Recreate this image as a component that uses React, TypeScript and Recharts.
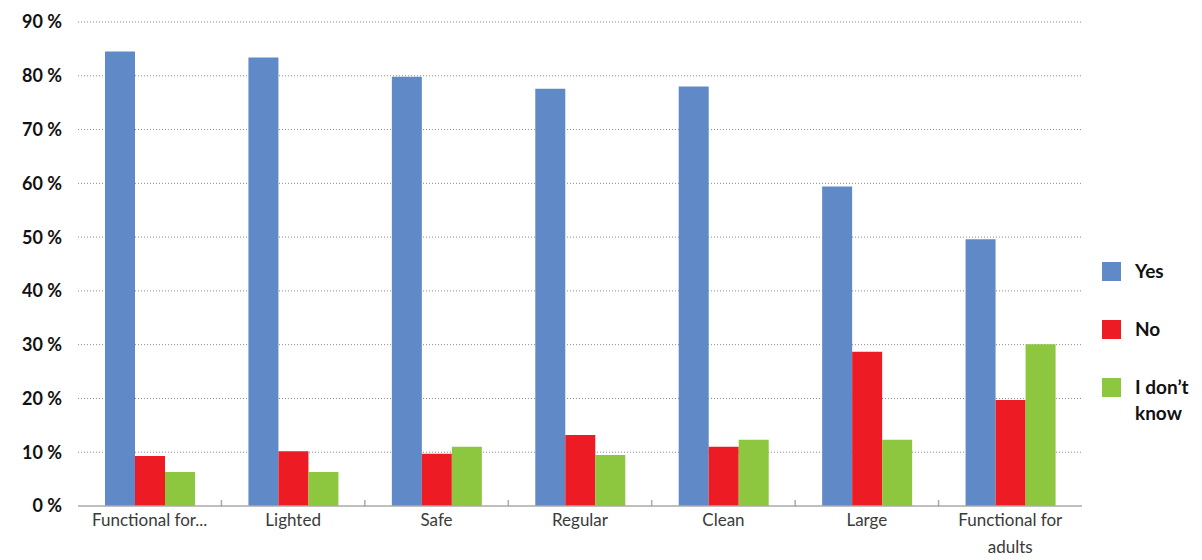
import { BarChart, Bar, XAxis, YAxis, CartesianGrid } from 'recharts';

const categories = ['Functional for...', 'Lighted', 'Safe', 'Regular', 'Clean', 'Large', 'Functional for adults'];
const yesValues = [84.5, 83.4, 79.8, 77.6, 78.0, 59.4, 49.6];
const noValues = [9.3, 10.2, 9.7, 13.2, 11.0, 28.7, 19.7];
const dontKnowValues = [6.3, 6.3, 11.0, 9.5, 12.3, 12.3, 30.1];
const yTicks = [0, 10, 20, 30, 40, 50, 60, 70, 80, 90];

const series = [
    { key: 'yes', name: 'Yes', color: '#5F8AC7' },
    { key: 'no', name: 'No', color: '#ED1C24' },
    { key: 'dontKnow', name: 'I don\u2019t know', color: '#8DC63F' },
];

const data = categories.map((name, i) => ({
    name,
    yes: yesValues[i],
    no: noValues[i],
    dontKnow: dontKnowValues[i],
}));

const WIDTH = 1194;
const HEIGHT = 552;
const MARGIN = { top: 14, right: 120, bottom: 0, left: 0 };
const Y_WIDTH = 70;
const BAND = (WIDTH - MARGIN.right - Y_WIDTH) / categories.length;
const FONT = 'Lato, "Open Sans", sans-serif';

function wrapLabel(label: string, max: number) {
    const lines: string[] = [];
    let cur = '';
    label.split(' ').forEach((w) => {
        const next = cur ? `${cur} ${w}` : w;
        if (next.length > max && cur) {
            lines.push(cur);
            cur = w;
        } else {
            cur = next;
        }
    });
    if (cur) lines.push(cur);
    return lines;
}

function CategoryTick(props: any) {
    const { x, y, payload, index } = props;
    const lines = wrapLabel(String(payload.value), 18);
    return (
        <g>
            {index < categories.length - 1 && (
                <line x1={x + BAND / 2} x2={x + BAND / 2} y1={y - 8} y2={y - 1} stroke="#aaa" strokeWidth={1.5} />
            )}
            <text x={x} y={y + 18} textAnchor="middle" fill="#3a3a3a" fontSize={17} fontFamily={FONT}>
                {lines.map((l, i) => (
                    <tspan key={i} x={x} dy={i === 0 ? 0 : 27}>{l}</tspan>
                ))}
            </text>
        </g>
    );
}

function ChartLegend() {
    return (
        <div style={{ position: 'absolute', left: 1094, top: 254, fontFamily: FONT, fontWeight: 700, fontSize: 19, color: '#111' }}>
            {series.map((s) => (
                <div key={s.key} style={{ display: 'flex', alignItems: 'flex-start', height: 58 }}>
                    <div style={{ width: 19, height: 19, background: s.color, marginRight: 14, flexShrink: 0 }} />
                    <div style={{ width: 62, lineHeight: '26px', marginTop: -4 }}>{s.name}</div>
                </div>
            ))}
        </div>
    );
}

export default function App() {
    return (
        <div style={{ position: 'relative', width: WIDTH, height: HEIGHT }}>
            <BarChart width={WIDTH} height={HEIGHT} data={data} margin={MARGIN} barGap={0} barSize={30}>
                <CartesianGrid
                    vertical={false}
                    stroke="#8a8a8a"
                    strokeDasharray="1 2"
                    horizontalValues={yTicks.slice(1)}
                />
                <XAxis
                    dataKey="name"
                    height={54}
                    interval={0}
                    axisLine={{ stroke: '#aaa', strokeWidth: 1.5 }}
                    tickLine={false}
                    tickSize={0}
                    tick={<CategoryTick />}
                />
                <YAxis
                    width={Y_WIDTH}
                    domain={[0, 90]}
                    ticks={yTicks}
                    interval={0}
                    axisLine={false}
                    tickLine={false}
                    tickSize={0}
                    tickMargin={16}
                    tickFormatter={(v) => `${v} %`}
                    tick={{ fill: '#111', fontSize: 18, fontWeight: 700, fontFamily: FONT }}
                />
                {series.map((s) => (
                    <Bar key={s.key} dataKey={s.key} name={s.name} fill={s.color} isAnimationActive={false} />
                ))}
            </BarChart>
            <ChartLegend />
        </div>
    );
}
